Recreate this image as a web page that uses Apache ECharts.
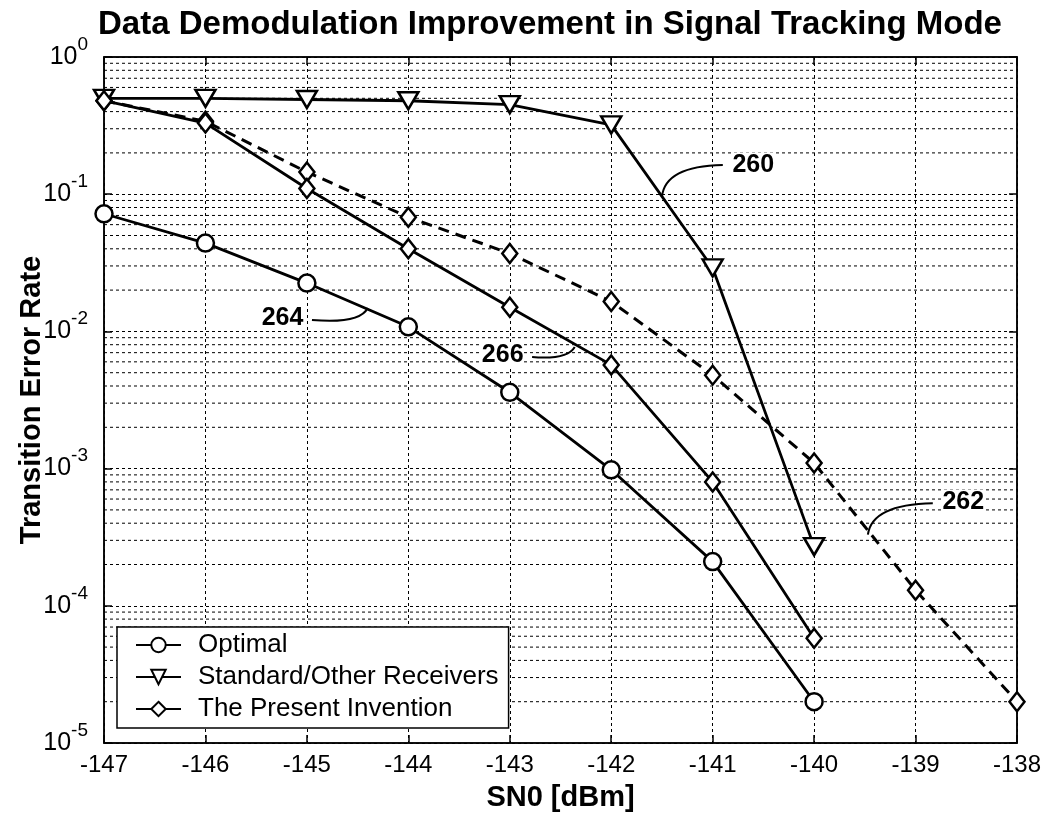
<!DOCTYPE html>
<html>
<head>
<meta charset="utf-8">
<script src="https://cdn.jsdelivr.net/npm/echarts@6/dist/echarts.min.js"></script>
<style>
  html, body { margin: 0; padding: 0; background: #fff; }
  #chart { width: 1046px; height: 822px; }
</style>
</head>
<body>
<div id="chart"></div>
<script>
// x values (SN0, dBm)
const snr = [-147, -146, -145, -144, -143, -142, -141, -140]
const snrLong = [-147, -146, -145, -144, -143, -142, -141, -140, -139, -138]

// transition error rates
const optimal = [0.072, 0.044, 0.0225, 0.0108, 0.0036, 0.00098, 0.00021, 0.00002]
const standard = [0.50, 0.50, 0.49, 0.48, 0.45, 0.32, 0.029, 0.00027]
const invention = [0.48, 0.33, 0.11, 0.040, 0.0150, 0.0057, 0.0008, 0.000058]
const invention262 = [0.48, 0.34, 0.145, 0.068, 0.037, 0.0165, 0.0048, 0.0011, 0.00013, 0.00002]

const legendNames = ['Optimal', 'Standard/Other Receivers', 'The Present Invention']

// reference numerals: text anchor, leader start, leader control, leader end (data units)
const noteText = ['260', '262', '264', '266']
const noteAt = [[-140.60, 0.163], [-138.53, 0.00057], [-145.24, 0.0125], [-143.07, 0.0067]]
const leadFrom = [[-140.90, 0.163], [-138.83, 0.00056], [-144.95, 0.0121], [-142.78, 0.0065]]
const leadCtrl = [[-141.47, 0.160], [-139.43, 0.00055], [-144.48, 0.0113], [-142.43, 0.0062]]
const leadTo = [[-141.50, 0.0955], [-139.47, 0.00033], [-144.40, 0.0148], [-142.36, 0.0077]]

const FONT = 'Liberation Sans, Arial, Helvetica, sans-serif'

// minor log grid lines 2..9 per decade
const minorVals = []
for (let e = -5; e < 0; e++) {
  for (let m = 2; m <= 9; m++) minorVals.push(m * Math.pow(10, e))
}

const pair = (xs, ys) => xs.map((x, i) => [x, ys[i]])

const chart = echarts.init(document.getElementById('chart'), null, { renderer: 'canvas' })

const hollow = { color: '#fff', borderColor: '#000', borderWidth: 2.5 }
const dotted = { color: '#000', width: 1, type: [3, 3] }

const option = {
  animation: false,
  backgroundColor: '#fff',
  title: {
    text: 'Data Demodulation Improvement in Signal Tracking Mode',
    left: 98,
    top: 8,
    padding: 0,
    textStyle: { fontFamily: FONT, fontSize: 33, fontWeight: 'bold', color: '#000' }
  },
  grid: {
    left: 104,
    right: 29,
    top: 57,
    bottom: 79,
    outerBoundsMode: 'none',
    containLabel: false,
    show: true,
    borderColor: '#000',
    borderWidth: 1.5
  },
  legend: {
    data: legendNames,
    orient: 'vertical',
    left: 117,
    top: 627,
    padding: [5, 10, 6, 18],
    itemGap: 6,
    itemWidth: 45,
    itemHeight: 18,
    backgroundColor: '#fff',
    borderColor: '#000',
    borderWidth: 1.5,
    borderRadius: 0,
    textStyle: { fontFamily: FONT, fontSize: 26, color: '#000', padding: [0, 0, 0, 12] }
  },
  xAxis: [
    {
      type: 'value',
      min: -147,
      max: -138,
      interval: 1,
      name: 'SN0 [dBm]',
      nameLocation: 'middle',
      nameGap: 40,
      nameMoveOverlap: false,
      nameTextStyle: { fontFamily: FONT, fontSize: 29, fontWeight: 'bold', color: '#000' },
      axisLine: { show: true, onZero: false, lineStyle: { color: '#000', width: 1.5 } },
      axisTick: { show: true, inside: true, length: 8, lineStyle: { color: '#000', width: 1.5 } },
      axisLabel: { fontFamily: FONT, fontSize: 24, color: '#000', margin: 10 },
      splitLine: { show: true, lineStyle: dotted }
    },
    {
      type: 'value',
      position: 'top',
      min: -147,
      max: -138,
      interval: 1,
      axisLine: { show: true, onZero: false, lineStyle: { color: '#000', width: 1.5 } },
      axisTick: { show: true, inside: true, length: 8, lineStyle: { color: '#000', width: 1.5 } },
      axisLabel: { show: false },
      splitLine: { show: false }
    }
  ],
  yAxis: [
    {
      type: 'log',
      logBase: 10,
      min: 1e-5,
      max: 1,
      name: 'Transition Error Rate',
      nameLocation: 'middle',
      nameGap: 58,
      nameMoveOverlap: false,
      nameTextStyle: { fontFamily: FONT, fontSize: 29, fontWeight: 'bold', color: '#000' },
      axisLine: { show: true, onZero: false, lineStyle: { color: '#000', width: 1.5 } },
      axisTick: { show: true, inside: true, length: 8, lineStyle: { color: '#000', width: 1.5 } },
      axisLabel: {
        margin: 16,
        formatter: v => '{b|10}{s|' + Math.round(Math.log10(v)) + '}',
        rich: {
          b: { fontFamily: FONT, fontSize: 25, color: '#000', lineHeight: 44, verticalAlign: 'middle' },
          s: { fontFamily: FONT, fontSize: 19, color: '#000', lineHeight: 19, verticalAlign: 'top' }
        }
      },
      splitLine: { show: true, lineStyle: dotted }
    },
    {
      type: 'log',
      logBase: 10,
      min: 1e-5,
      max: 1,
      position: 'right',
      axisLine: { show: true, onZero: false, lineStyle: { color: '#000', width: 1.5 } },
      axisTick: { show: true, inside: true, length: 8, lineStyle: { color: '#000', width: 1.5 } },
      axisLabel: { show: false },
      splitLine: { show: false }
    }
  ],
  series: [
    {
      // minor log grid, one horizontal dotted line per value
      name: 'minor-grid',
      type: 'custom',
      silent: true,
      z: 1,
      data: minorVals.map(v => [-147, v]),
      renderItem: (params, api) => {
        const p = api.coord([api.value(0), api.value(1)])
        const cs = params.coordSys
        return {
          type: 'line',
          shape: { x1: cs.x, y1: p[1], x2: cs.x + cs.width, y2: p[1] },
          style: { stroke: '#000', lineWidth: 1, lineDash: [3, 3] }
        }
      }
    },
    {
      name: 'The Present Invention (262)',
      type: 'line',
      data: pair(snrLong, invention262),
      symbol: 'diamond',
      symbolSize: [15, 19],
      lineStyle: { color: '#000', width: 3, type: [11, 7] },
      itemStyle: hollow,
      z: 3
    },
    {
      name: 'Optimal',
      type: 'line',
      data: pair(snr, optimal),
      symbol: 'circle',
      symbolSize: 17,
      lineStyle: { color: '#000', width: 2.8 },
      itemStyle: hollow,
      z: 4
    },
    {
      name: 'Standard/Other Receivers',
      type: 'line',
      data: pair(snr, standard),
      symbol: 'triangle',
      symbolRotate: 180,
      symbolSize: [20, 17],
      lineStyle: { color: '#000', width: 2.8 },
      itemStyle: hollow,
      z: 4
    },
    {
      name: 'The Present Invention',
      type: 'line',
      data: pair(snr, invention),
      symbol: 'diamond',
      symbolSize: [15, 19],
      lineStyle: { color: '#000', width: 2.8 },
      itemStyle: hollow,
      z: 5
    }
  ]
}

chart.setOption(option)

// reference numerals with curved leaders, placed through the axes' scales
const toPx = p => chart.convertToPixel({ xAxisIndex: 0, yAxisIndex: 0 }, p)
const graphics = []
noteText.forEach((t, i) => {
  const a = toPx(noteAt[i])
  const s = toPx(leadFrom[i])
  const c = toPx(leadCtrl[i])
  const e = toPx(leadTo[i])
  graphics.push({
    type: 'text',
    x: a[0],
    y: a[1],
    z: 20,
    style: {
      text: t,
      fontFamily: FONT,
      fontSize: 25,
      fontWeight: 'bold',
      fill: '#000',
      align: 'center',
      verticalAlign: 'middle',
      backgroundColor: '#fff'
    }
  })
  graphics.push({
    type: 'bezierCurve',
    z: 20,
    shape: { x1: s[0], y1: s[1], cpx1: c[0], cpy1: c[1], x2: e[0], y2: e[1] },
    style: { stroke: '#000', lineWidth: 2, fill: null }
  })
})
chart.setOption({ graphic: graphics })
</script>
</body>
</html>
